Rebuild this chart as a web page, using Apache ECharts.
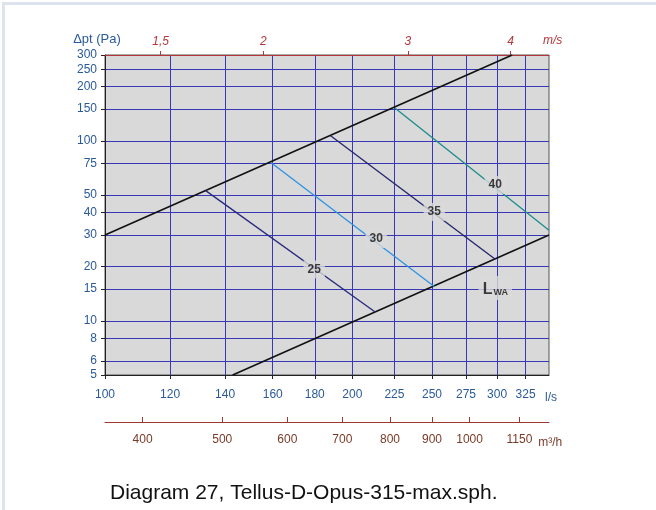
<!DOCTYPE html>
<html>
<head>
<meta charset="utf-8">
<script src="https://cdn.jsdelivr.net/npm/echarts@6/dist/echarts.min.js"></script>
<style>
  html, body { margin: 0; padding: 0; background: #fff; }
  #chart { position: absolute; left: 0; top: 0; width: 656px; height: 510px; }
  #frame { position: absolute; left: 2px; top: 2px; width: 660px; height: 520px;
           border-top: 3px solid #dde3ef; border-left: 3px solid #dde3ef; pointer-events: none; }
</style>
</head>
<body>
<div id="chart"></div>
<div id="frame"></div>
<script>
// Axis ranges (flow in l/s, total pressure in Pa)
const flowMin = 100, flowMax = 347;
const pressureMin = 5, pressureMax = 300;
// Duct cross-section (Ø315) used for the air velocity scale, m²
const ductArea = 0.0779;

// Tick values
const flowTicks = [100, 120, 140, 160, 180, 200, 225, 250, 275, 300, 325];
const pressureTicks = [5, 6, 8, 10, 15, 20, 30, 40, 50, 75, 100, 150, 200, 250, 300];
const velocityTicks = [1.5, 2, 3, 4];
const hourlyTicks = [400, 500, 600, 700, 800, 900, 1000, 1150];

// Working range limits (flow l/s, pressure Pa)
const limitUpper = [[100, 30], [313, 300]];
const limitLower = [[143, 5], [347, 30]];

// Sound power level lines, dB(A)
const lwa25 = [[132.6, 52.9], [213.2, 11.2]];
const lwa30 = [[159.3, 75.5], [251.6, 15.5]];
const lwa35 = [[188, 107], [298.5, 22]];
const lwa40 = [[225.5, 152], [347, 31.9]];

// Label anchors on the chart
const lineLabels = [
  { name: '25', value: [179.7, 19.3] },
  { name: '30', value: [213.8, 28.5] },
  { name: '35', value: [251.6, 40.3] },
  { name: '40', value: [298.5, 56.9] },
  { name: 'LWA', value: [298.5, 15.2] }
];

const gridColor = '#3838b6';
const blueText = '#2a5a98';
const redAxis = '#b2363a';
const brownAxis = '#9a3a30';
const font = 'Liberation Sans, Arial, Helvetica, sans-serif';

const chart = echarts.init(document.getElementById('chart'), null, { renderer: 'canvas' });

function line(data, color, width) {
  return {
    type: 'line', data: data, xAxisIndex: 0, yAxisIndex: 0,
    symbol: 'none', silent: true, z: 3,
    lineStyle: { color: color, width: width }
  };
}

const plain = v => String(v);

chart.setOption({
  animation: false,
  textStyle: { fontFamily: font },
  title: {
    text: 'Diagram 27, Tellus-D-Opus-315-max.sph.',
    left: 105, top: 478,
    textStyle: { fontFamily: font, fontSize: 21, fontWeight: 'normal', color: '#111' }
  },
  grid: {
    left: 105, right: 107, top: 55, bottom: 135,
    show: true, backgroundColor: '#d9d9d9', borderColor: '#555', borderWidth: 1
  },
  xAxis: [
    {
      type: 'log', position: 'bottom', min: flowMin, max: flowMax,
      name: 'l/s', nameLocation: 'end', nameGap: -4,
      nameTextStyle: { color: blueText, fontSize: 12, verticalAlign: 'top', padding: [17, 0, 0, 0] },
      axisLine: { show: true, lineStyle: { color: '#222', width: 1 } },
      axisTick: { show: true, customValues: flowTicks, length: 4, lineStyle: { color: '#222' } },
      axisLabel: { customValues: flowTicks, color: blueText, fontSize: 12, margin: 14, formatter: plain },
      splitLine: { show: true, lineStyle: { color: gridColor, width: 1 } },
      minorTick: { show: false }, minorSplitLine: { show: false }
    },
    {
      type: 'log', position: 'top', min: flowMin / 1000 / ductArea, max: flowMax / 1000 / ductArea,
      name: 'm/s', nameLocation: 'end', nameGap: -6,
      nameTextStyle: { color: redAxis, fontSize: 12, fontStyle: 'italic', verticalAlign: 'bottom', padding: [0, 0, 8, 0] },
      axisLine: { show: true, lineStyle: { color: redAxis, width: 1 } },
      axisTick: { show: true, customValues: velocityTicks, length: 4, lineStyle: { color: redAxis } },
      axisLabel: {
        customValues: velocityTicks, color: redAxis, fontSize: 12, fontStyle: 'italic', margin: 7,
        formatter: v => String(v).replace('.', ',')
      },
      splitLine: { show: false }
    },
    {
      type: 'log', position: 'bottom', offset: 47, min: flowMin * 3.6, max: flowMax * 3.6,
      name: 'm³/h', nameLocation: 'end', nameGap: -11,
      nameTextStyle: { color: '#7a3a28', fontSize: 12, verticalAlign: 'top', padding: [15, 0, 0, 0] },
      axisLine: { show: true, lineStyle: { color: brownAxis, width: 1 } },
      axisTick: { show: true, inside: true, customValues: hourlyTicks, length: 5, lineStyle: { color: brownAxis } },
      axisLabel: { customValues: hourlyTicks, color: '#7a3a28', fontSize: 12, margin: 12, formatter: plain },
      splitLine: { show: false }
    }
  ],
  yAxis: [
    {
      type: 'log', min: pressureMin, max: pressureMax,
      name: 'Δpt (Pa)', nameLocation: 'end', nameGap: 9,
      nameTextStyle: { color: blueText, fontSize: 13, align: 'center', padding: [0, 16, 0, 0] },
      axisLine: { show: true, lineStyle: { color: '#222', width: 1 } },
      axisTick: { show: true, customValues: pressureTicks, length: 4, lineStyle: { color: '#222' } },
      axisLabel: { customValues: pressureTicks, color: blueText, fontSize: 12, margin: 8, formatter: plain },
      splitLine: { show: true, lineStyle: { color: gridColor, width: 1 } },
      minorTick: { show: false }, minorSplitLine: { show: false }
    }
  ],
  series: [
    line(limitUpper, '#111', 1.6),
    line(limitLower, '#111', 1.6),
    line(lwa25, '#28287e', 1.3),
    line(lwa30, '#2b92e4', 1.3),
    line(lwa35, '#22226c', 1.3),
    line(lwa40, '#1b8c8c', 1.3),
    {
      type: 'scatter', xAxisIndex: 0, yAxisIndex: 0, symbolSize: 0, silent: true, z: 5,
      data: lineLabels,
      label: {
        show: true, position: 'inside', color: '#111', fontWeight: 'bold', fontSize: 12,
        backgroundColor: '#d9d9d9', padding: [3, 4],
        formatter: p => p.name === 'LWA' ? '{l|L}{s|WA}' : p.name,
        rich: {
          l: { fontSize: 16, fontWeight: 'bold', color: '#111', verticalAlign: 'bottom', lineHeight: 18 },
          s: { fontSize: 9, fontWeight: 'bold', color: '#111', verticalAlign: 'bottom', lineHeight: 14, padding: [0, 0, 0, 1] }
        }
      }
    }
  ]
});
</script>
</body>
</html>
